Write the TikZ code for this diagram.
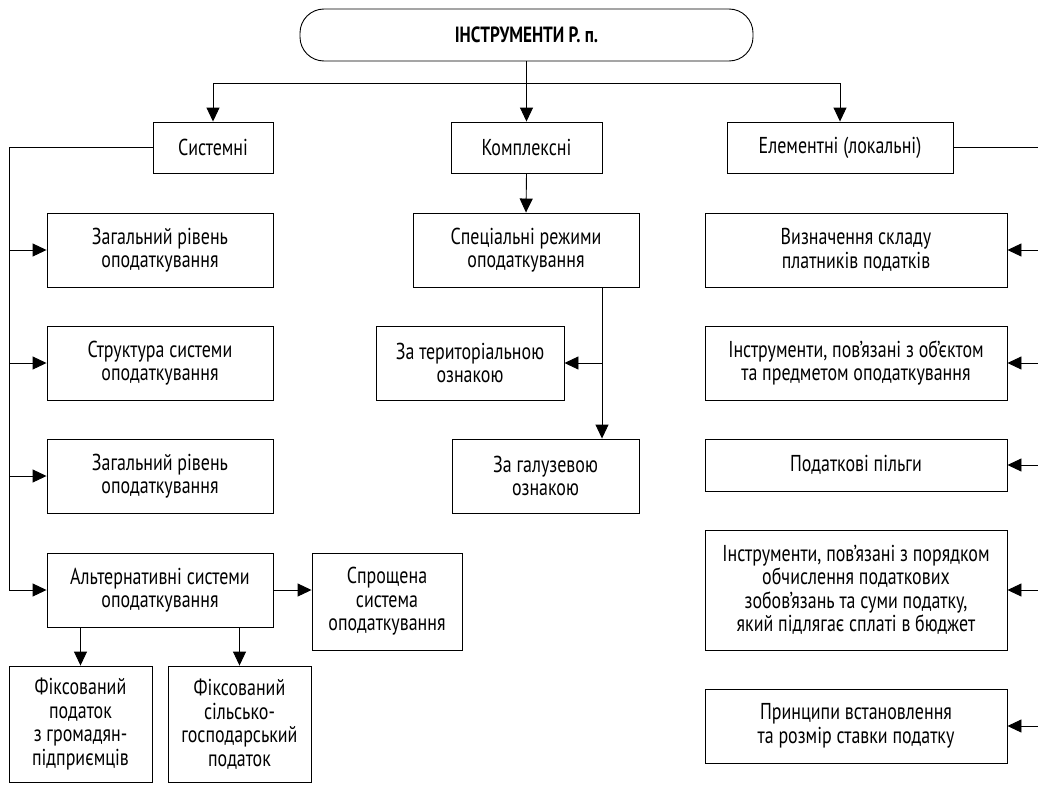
\documentclass[tikz,border=0pt]{standalone}
\usepackage{fontspec}
\setmainfont{PT Sans}[FakeStretch=0.78]
\usetikzlibrary{arrows.meta}

\begin{document}
\begin{tikzpicture}[x=1pt,y=-1pt,line width=0.9pt,
  box/.style={draw,align=center,inner sep=2pt,font=\fontsize{23}{23.5}\selectfont},
  tip/.style={-{Triangle[length=14pt,width=13pt]}}]
\useasboundingbox (0,0) rectangle (1038,784);
% top
\node[draw,rounded corners=24pt,minimum width=453pt,minimum height=52pt,
  font=\bfseries\fontsize{22}{23}\selectfont] (root) at (526.5,35) {ІНСТРУМЕНТИ Р. п.};
\node[box,minimum width=120pt,minimum height=51pt] (sys) at (213,147.5) {Системні};
\node[box,minimum width=151pt,minimum height=51pt] (kompl) at (526.5,147.5) {Комплексні};
\node[box,minimum width=226pt,minimum height=51pt] (elem) at (840,147.5) {Елементні (локальні)};
% left column
\node[box,minimum width=226pt,minimum height=74pt] (gen1) at (160,250) {Загальний рівень\\оподаткування};
\node[box,minimum width=226pt,minimum height=74pt] (struct) at (160,363) {Структура системи\\оподаткування};
\node[box,minimum width=226pt,minimum height=74pt] (gen2) at (160,476) {Загальний рівень\\оподаткування};
\node[box,minimum width=226pt,minimum height=74pt] (alt) at (160,590) {Альтернативні системи\\оподаткування};
\node[box,minimum width=150pt,minimum height=97pt] (spr) at (387,601.5) {Спрощена\\система\\оподаткування};
\node[box,minimum width=143pt,minimum height=116pt] (fix1) at (80.5,724) {Фіксований\\податок\\з громадян-\\підприємців};
\node[box,minimum width=143pt,minimum height=116pt] (fix2) at (239.5,724) {Фіксований\\сільсько-\\господарський\\податок};
% middle column
\node[box,minimum width=226pt,minimum height=74pt] (spec) at (526,250) {Спеціальні режими\\оподаткування};
\node[box,minimum width=188pt,minimum height=74pt] (ter) at (470,363) {За територіальною\\ознакою};
\node[box,minimum width=187pt,minimum height=74pt] (gal) at (545.5,476) {За галузевою\\ознакою};
% right column
\node[box,minimum width=302pt,minimum height=74pt] (vyz) at (856,250) {Визначення складу\\платників податків};
\node[box,minimum width=302pt,minimum height=74pt] (obj) at (856,363) {Інструменти, пов’язані з об’єктом\\та предметом оподаткування};
\node[box,minimum width=302pt,minimum height=52pt] (pilg) at (856,465) {Податкові пільги};
\node[box,minimum width=302pt,minimum height=120pt] (por) at (856,590) {Інструменти, пов’язані з порядком\\обчислення податкових\\зобов’язань та суми податку,\\який підлягає сплаті в бюджет};
\node[box,minimum width=302pt,minimum height=74pt] (prin) at (856,726) {Принципи встановлення\\та розмір ставки податку};

\coordinate (bus) at (526.5,83);
\coordinate (lspine) at (9,0);
\coordinate (rspine) at (1040,0);
\coordinate (mbr) at (602,0);

% connectors
\draw[tip] (root.south) -- (kompl.north);
\draw (bus -| sys) -- (bus -| elem);
\draw[tip] (bus -| sys) -- (sys.north);
\draw[tip] (bus -| elem) -- (elem.north);

\draw[tip] (sys.west) -- (sys.west -| lspine) |- (alt.west);
\foreach \n in {gen1,struct,gen2}
  \draw[tip] (\n.west -| lspine) -- (\n.west);
\draw[tip] (alt.east) -- (alt.east -| spr.west);
\draw[tip] (alt.south -| fix1.north) -- (fix1.north);
\draw[tip] (alt.south -| fix2.north) -- (fix2.north);

\draw[tip] (kompl.south) -- (spec.north);
\draw[tip] (spec.south -| mbr) -- (gal.north -| mbr);
\draw[tip] (ter.east -| mbr) -- (ter.east);

\draw (elem.east) -- (elem.east -| rspine) -- (prin.east -| rspine);
\foreach \n in {vyz,obj,pilg,por,prin}
  \draw[tip] (\n.east -| rspine) -- (\n.east);
\end{tikzpicture}
\end{document}
